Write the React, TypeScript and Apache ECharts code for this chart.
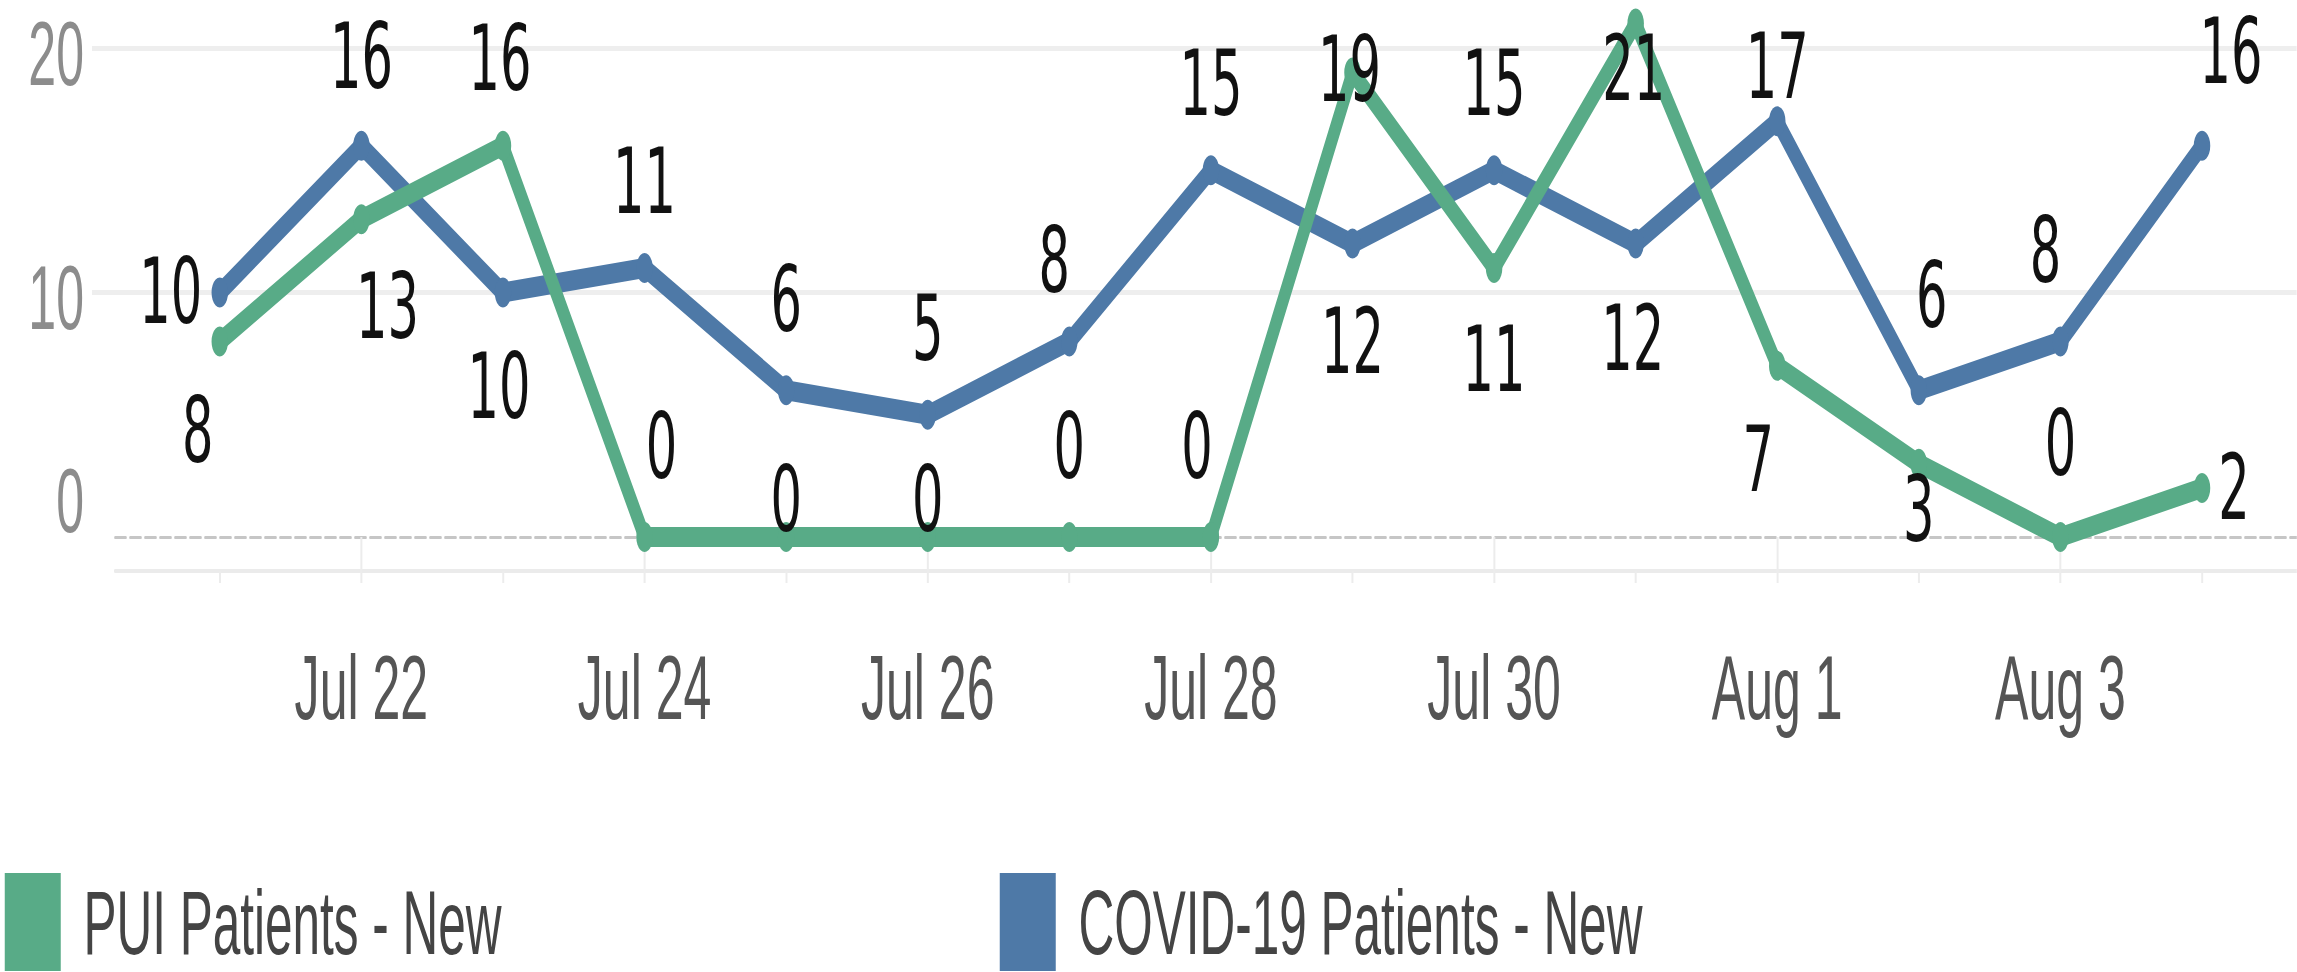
import React, { useEffect, useRef } from "react";
import * as echarts from "echarts";

// ---- data ----
const DATES = [
  "Jul 21", "Jul 22", "Jul 23", "Jul 24", "Jul 25", "Jul 26", "Jul 27", "Jul 28",
  "Jul 29", "Jul 30", "Jul 31", "Aug 1", "Aug 2", "Aug 3", "Aug 4",
];
const COVID_NEW = [10, 16, 10, 11, 6, 5, 8, 15, 12, 15, 12, 17, 6, 8, 16];
const PUI_NEW = [8, 13, 16, 0, 0, 0, 0, 0, 19, 11, 21, 7, 3, 0, 2];
const Y_TICKS = [0, 10, 20];
const SERIES_NAMES = ["PUI Patients - New", "COVID-19 Patients - New"];

// ---- label placement (final px, relative to point centre) ----
const COVID_LABEL_OFFSETS = [
  [-49, 0], [0, -89], [-4, 95], [0, -86], [0, -90], [0, -86], [-15, -80], [0, -86],
  [0, 98], [0, -86], [-3, 95], [0, -54], [13, -94], [-15, -90], [29, -94],
];
const PUI_LABEL_OFFSETS = [
  [-22, 90], [26, 88], [-3, -87], [17, -90], [0, -37], [0, -37], [0, -90], [-14, -90],
  [-3, -2], [0, 92], [-2, 45], [-19, 94], [0, 46], [0, -93], [32, 0],
];

// horizontal squeeze of the whole picture
const S = 0.55;
const W = 2297;
const H = 972;
const P = (x: number) => x / S;

const GREEN = "#58ab87";
const BLUE = "#4e79a7";
const SANS = "'Liberation Sans', Arial, sans-serif";
const LABEL_FONT = "'DejaVu Sans', sans-serif";

export default function App() {
  const ref = useRef<HTMLDivElement>(null);

  useEffect(() => {
    if (!ref.current) return;
    const chart = echarts.init(ref.current, null, { renderer: "svg" });

    const mk = (vals: number[], offs: number[][]) =>
      vals.map((v, i) => ({
        value: v,
        label: { offset: [offs[i][0] / S, offs[i][1]] },
      }));

    const labelCfg = {
      show: true,
      position: "inside",
      align: "center",
      verticalAlign: "middle",
      fontSize: 90,
      color: "#111",
      fontFamily: LABEL_FONT,
    };

    const top = 48;
    const bottom = H - 537;

    const legendText = { fontSize: 90, color: "#444", fontFamily: SANS, padding: [0, 0, 0, P(20)] };

    const option: any = {
      animation: false,
      backgroundColor: "#fff",
      grid: [
        { left: P(92), right: 0, top, bottom },
        { left: P(115), right: 0, top, bottom },
        { left: P(149), right: P(24), top, bottom },
      ],
      legend: [
        {
          data: [{ name: SERIES_NAMES[0], icon: "rect" }],
          left: P(2),
          top: 868,
          itemWidth: P(56),
          itemHeight: 98,
          selectedMode: false,
          textStyle: legendText,
        },
        {
          data: [{ name: SERIES_NAMES[1], icon: "rect" }],
          left: P(997),
          top: 868,
          itemWidth: P(56),
          itemHeight: 98,
          selectedMode: false,
          textStyle: legendText,
        },
      ],
      xAxis: [
        { gridIndex: 0, type: "value", min: 0, max: 1, show: false },
        {
          gridIndex: 1,
          type: "value",
          min: 0,
          max: 1,
          position: "bottom",
          axisLine: { show: true, onZero: false, lineStyle: { color: "#c6c6c6", width: 3, type: [P(11), P(4)] } },
          axisTick: { show: false },
          axisLabel: { show: false },
          splitLine: { show: false },
        },
        {
          gridIndex: 1,
          type: "value",
          min: 0,
          max: 1,
          position: "bottom",
          offset: 34,
          axisLine: { show: true, onZero: false, lineStyle: { color: "#ebebeb", width: 4 } },
          axisTick: { show: false },
          axisLabel: { show: false },
          splitLine: { show: false },
        },
        {
          gridIndex: 2,
          type: "category",
          data: DATES,
          position: "bottom",
          offset: 34,
          boundaryGap: true,
          axisLine: { show: false },
          axisTick: {
            show: true,
            alignWithLabel: true,
            interval: (i: number) => i % 2 === 1,
            length: 36,
            lineStyle: { color: "#ececec", width: P(2) },
          },
          axisLabel: {
            interval: (i: number) => i % 2 === 1,
            margin: 72,
            fontSize: 91,
            color: "#555",
            fontFamily: SANS,
          },
          splitLine: { show: false },
        },
        {
          gridIndex: 2,
          type: "category",
          data: DATES,
          position: "bottom",
          offset: 34,
          boundaryGap: true,
          axisLine: { show: false },
          axisTick: {
            show: true,
            alignWithLabel: true,
            interval: 0,
            length: 12,
            lineStyle: { color: "#ececec", width: P(2) },
          },
          axisLabel: { show: false },
          splitLine: { show: false },
        },
      ],
      yAxis: [
        {
          gridIndex: 0,
          type: "value",
          min: Y_TICKS[0],
          max: Y_TICKS[Y_TICKS.length - 1],
          interval: Y_TICKS[1] - Y_TICKS[0],
          axisLine: { show: false },
          axisTick: { show: false },
          splitLine: { show: true, showMinLine: false, lineStyle: { color: "#eeeeee", width: 5 } },
          axisLabel: {
            margin: P(8),
            fontSize: 91,
            color: "#8c8c8c",
            fontFamily: SANS,
            formatter: (v: number) => (v === 0 ? "{z|0}" : "{a|" + v + "}"),
            rich: {
              a: { fontSize: 91, color: "#8c8c8c", fontFamily: SANS, padding: [12, 0, 0, 0] },
              z: { fontSize: 91, color: "#8c8c8c", fontFamily: SANS, padding: [0, 0, 72, 0] },
            },
          },
        },
        { gridIndex: 1, type: "value", min: 0, max: 20, show: false },
        { gridIndex: 2, type: "value", min: 0, max: 20, show: false },
      ],
      series: [
        {
          name: SERIES_NAMES[1],
          type: "line",
          xAxisIndex: 3,
          yAxisIndex: 2,
          data: mk(COVID_NEW, COVID_LABEL_OFFSETS),
          color: BLUE,
          symbol: "circle",
          symbolSize: 30,
          clip: false,
          lineStyle: { width: 20, color: BLUE, cap: "round", join: "round" },
          itemStyle: { color: BLUE },
          label: labelCfg,
          z: 3,
        },
        {
          name: SERIES_NAMES[0],
          type: "line",
          xAxisIndex: 3,
          yAxisIndex: 2,
          data: mk(PUI_NEW, PUI_LABEL_OFFSETS),
          color: GREEN,
          symbol: "circle",
          symbolSize: 30,
          clip: false,
          lineStyle: { width: 20, color: GREEN, cap: "round", join: "round" },
          itemStyle: { color: GREEN },
          label: labelCfg,
          z: 4,
        },
      ],
    };

    chart.setOption(option);
    return () => chart.dispose();
  }, []);

  return (
    <div
      style={{
        position: "fixed",
        left: 0,
        top: 0,
        width: W,
        height: H,
        overflow: "hidden",
        background: "#fff",
      }}
    >
      <div
        ref={ref}
        style={{
          width: P(W),
          height: H,
          transform: `scaleX(${S})`,
          transformOrigin: "0 0",
        }}
      />
    </div>
  );
}
